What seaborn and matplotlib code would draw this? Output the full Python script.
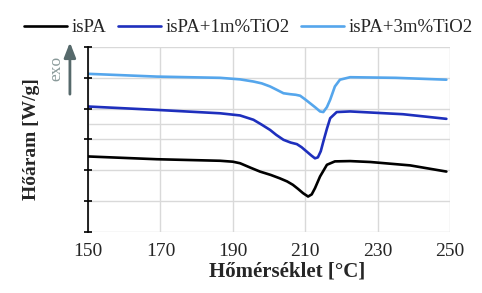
import pandas as pd
import matplotlib
matplotlib.use('Agg')
import matplotlib.pyplot as plt
import seaborn as sns

# DSC curves (arbitrary heat-flow units)
t_pa = [150, 169, 186.5, 190, 192, 195, 197.5, 200.5, 203, 205, 206.6, 208, 209.4, 210.8, 211.8, 212.7, 214.1, 216,
        218.2, 222.4, 228, 239, 249]
v_pa = [2.45, 2.36, 2.31, 2.28, 2.23, 2.08, 1.96, 1.85, 1.74, 1.64, 1.53, 1.4, 1.26, 1.15, 1.22, 1.42, 1.8, 2.18,
        2.29, 2.3, 2.27, 2.16, 1.96]

t_1 = [150, 169, 186.5, 192, 195.7, 198, 200.3, 202, 204, 206, 207.7, 209, 210.4, 211.7, 212.7, 213.5, 214.3,
       215, 216, 216.9, 218.7, 222.4, 237, 249]
v_1 = [4.07, 3.96, 3.85, 3.78, 3.64, 3.48, 3.31, 3.15, 2.99, 2.9, 2.85, 2.75, 2.61, 2.48, 2.39, 2.42, 2.62,
       2.93, 3.35, 3.69, 3.89, 3.91, 3.82, 3.67]

t_3 = [150, 169, 186.5, 192, 195.7, 198, 200.3, 202, 204, 205.8, 207.4, 208.6, 210, 211.3, 212.8, 214.1, 215,
       216, 216.9, 218.2, 219.6, 222.4, 235, 249]
v_3 = [5.13, 5.04, 5.0, 4.95, 4.88, 4.82, 4.72, 4.62, 4.5, 4.47, 4.45, 4.42, 4.3, 4.18, 4.04, 3.91, 3.89,
       4.05, 4.29, 4.72, 4.94, 5.02, 5.0, 4.94]

labels = ['isPA', 'isPA+1m%TiO2', 'isPA+3m%TiO2']
colors = ['#000000', '#1e2fbd', '#55a6ec']
x_ticks = [150, 170, 190, 210, 230, 250]

df = pd.concat([
    pd.DataFrame({'T': t_pa, 'hf': v_pa, 'minta': labels[0]}),
    pd.DataFrame({'T': t_1, 'hf': v_1, 'minta': labels[1]}),
    pd.DataFrame({'T': t_3, 'hf': v_3, 'minta': labels[2]}),
])

sns.set_style('white')
plt.rcParams['font.family'] = ['Liberation Serif', 'DejaVu Serif']

fig = plt.figure(figsize=(4.82, 2.93), dpi=100)
ax = fig.add_axes([0.1826, 0.2082, 0.751, 0.6314])

sns.lineplot(data=df, x='T', y='hf', hue='minta', palette=colors, sort=False,
             estimator=None, linewidth=1.9, ax=ax, legend=True)
for ln in ax.lines:
    ln.set_solid_joinstyle('round')
    ln.set_solid_capstyle('round')

ax.set_xlim(150, 250)
ax.set_ylim(0, 6)
ax.set_xticks(x_ticks)
ax.set_xticklabels([str(t) for t in x_ticks], fontsize=14)
ax.set_yticks(range(7))
ax.set_yticklabels([])
ax.set_yticks([3.5], minor=True)
ax.grid(True, which='both', color='#d9d9d9', linewidth=1)
ax.set_axisbelow(True)
for s in ['top', 'right', 'bottom']:
    ax.spines[s].set_visible(False)
ax.spines['left'].set_color('black')
ax.spines['left'].set_linewidth(1.2)
ax.tick_params(axis='y', which='major', left=True, direction='inout', length=6, width=1.2, color='black')
ax.tick_params(axis='y', which='minor', length=0)
ax.tick_params(axis='x', length=0, pad=8)

ax.set_xlabel('Hőmérséklet [°C]', fontsize=15, fontweight='bold', x=0.55, labelpad=1)
ax.set_ylabel('Hőáram [W/g]', fontsize=14, fontweight='bold', labelpad=28)

# exo arrow
ax.annotate('', xy=(-0.05, 1.04), xytext=(-0.05, 0.73), xycoords='axes fraction',
            arrowprops=dict(arrowstyle='-|>,head_width=0.35,head_length=0.9', color='#56696b', lw=2),
            annotation_clip=False)
ax.text(-0.088, 0.885, 'exo', transform=ax.transAxes, rotation=90, color='#8a9a9a',
        fontsize=12.5, ha='center', va='center')

handles, _ = ax.get_legend_handles_labels()
ax.get_legend().remove()
fig.legend(handles, labels, loc='center left', bbox_to_anchor=(0.05, 0.905), ncol=3,
           frameon=False, fontsize=13.5, handlelength=2.3, handletextpad=0.25,
           columnspacing=0.6, borderaxespad=0, borderpad=0)

fig.savefig('out.png', dpi=100)
